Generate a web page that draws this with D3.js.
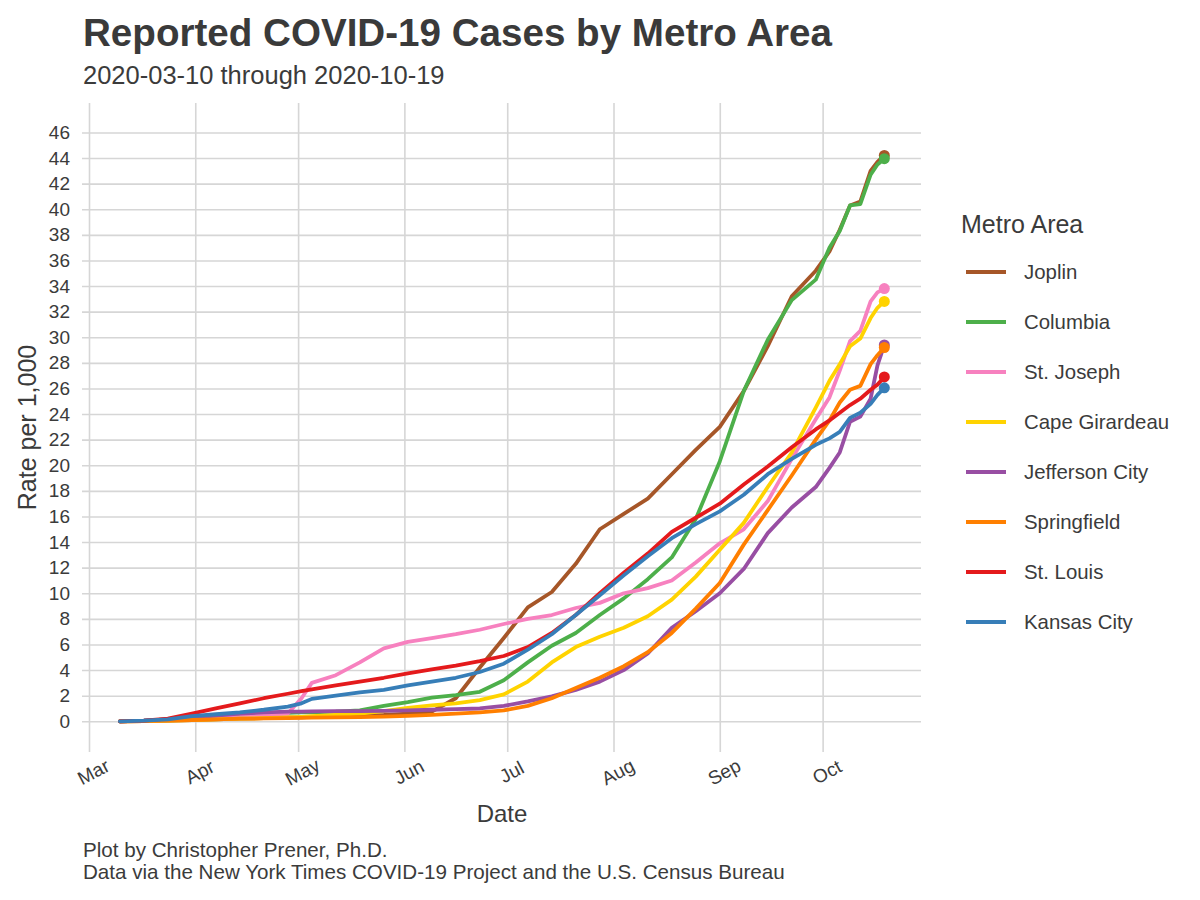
<!DOCTYPE html>
<html>
<head>
<meta charset="utf-8">
<script src="https://cdn.jsdelivr.net/npm/d3@7"></script>
<style>
  html, body { margin: 0; padding: 0; background: #ffffff; }
  svg { display: block; font-family: "Liberation Sans", Arial, Helvetica, sans-serif; }
</style>
</head>
<body>
<svg id="chart" width="1200" height="900"></svg>
<script>
// ---------------- DATA ----------------
const dates = ["2020-03-10","2020-03-17","2020-03-24","2020-03-31","2020-04-07","2020-04-14","2020-04-21","2020-04-28",
  "2020-05-02","2020-05-05","2020-05-12","2020-05-19","2020-05-26","2020-06-02","2020-06-09","2020-06-16","2020-06-23",
  "2020-06-30","2020-07-07","2020-07-14","2020-07-21","2020-07-28","2020-08-04","2020-08-11","2020-08-18","2020-08-25",
  "2020-09-01","2020-09-08","2020-09-15","2020-09-22","2020-09-29","2020-10-03","2020-10-06","2020-10-09","2020-10-12",
  "2020-10-15","2020-10-17","2020-10-19"];

const joplin = [0,0.02,0.05,0.1,0.15,0.2,0.25,0.3,0.3,0.35,0.4,0.45,0.5,0.6,0.75,1.8,4.2,6.5,8.9,10.1,12.3,15.0,16.2,17.4,19.3,21.2,23.0,25.8,29.3,33.2,35.2,36.7,38.4,40.3,40.6,43.0,43.7,44.2];
const columbia = [0,0.05,0.15,0.35,0.5,0.55,0.6,0.65,0.7,0.7,0.75,0.85,1.2,1.5,1.85,2.05,2.3,3.2,4.6,5.9,6.9,8.3,9.6,11.1,12.8,15.8,20.3,25.8,29.8,32.9,34.5,37.0,38.3,40.3,40.4,42.7,43.5,43.95];
const stJoseph = [0,0.02,0.1,0.2,0.3,0.35,0.45,0.6,1.8,3.0,3.6,4.6,5.7,6.2,6.5,6.8,7.15,7.6,8.0,8.3,8.85,9.25,10.0,10.4,11.0,12.4,13.9,15.0,17.2,20.5,23.6,25.3,27.4,29.7,30.5,32.8,33.5,33.8];
const capeGirardeau = [0,0.02,0.05,0.1,0.15,0.2,0.25,0.3,0.35,0.4,0.5,0.6,0.8,1.05,1.25,1.4,1.65,2.1,3.1,4.6,5.8,6.6,7.3,8.2,9.5,11.3,13.4,15.5,18.3,21.0,24.5,26.6,27.9,29.3,29.9,31.5,32.3,32.8];
const jeffersonCity = [0,0.05,0.15,0.3,0.45,0.6,0.7,0.75,0.75,0.78,0.8,0.8,0.82,0.85,0.9,0.95,1.0,1.2,1.55,1.95,2.45,3.1,4.0,5.3,7.3,8.6,10.0,11.9,14.7,16.7,18.3,19.8,21.0,23.4,23.8,25.2,27.8,29.4];
const springfield = [0,0.01,0.05,0.1,0.15,0.2,0.22,0.25,0.27,0.28,0.3,0.33,0.36,0.42,0.5,0.6,0.7,0.85,1.2,1.8,2.6,3.4,4.3,5.4,6.9,8.8,10.8,13.8,16.5,19.2,22.0,23.5,24.9,25.9,26.2,27.9,28.6,29.2];
const stLouis = [0,0.05,0.2,0.6,1.0,1.4,1.8,2.15,2.35,2.5,2.8,3.1,3.4,3.75,4.05,4.35,4.7,5.1,5.8,6.9,8.3,10.0,11.6,13.1,14.8,15.9,17.0,18.5,19.9,21.4,22.8,23.5,24.1,24.7,25.2,25.9,26.3,26.9];
const kansasCity = [0,0.05,0.15,0.4,0.55,0.7,0.9,1.15,1.4,1.75,2.0,2.25,2.45,2.8,3.1,3.4,3.85,4.5,5.6,6.8,8.3,9.85,11.4,12.9,14.3,15.4,16.4,17.7,19.3,20.5,21.6,22.1,22.6,23.7,24.1,24.8,25.5,26.05];

const metroNames = ["Joplin","Columbia","St. Joseph","Cape Girardeau","Jefferson City","Springfield","St. Louis","Kansas City"];
const metroValues = [joplin, columbia, stJoseph, capeGirardeau, jeffersonCity, springfield, stLouis, kansasCity];
const metroColors = ["#A65628","#4DAF4A","#F781BF","#FFD300","#984EA3","#FF7F00","#E41A1C","#377EB8"];

const yTicks = [0,2,4,6,8,10,12,14,16,18,20,22,24,26,28,30,32,34,36,38,40,42,44,46];
const monthTicks = ["2020-03-01","2020-04-01","2020-05-01","2020-06-01","2020-07-01","2020-08-01","2020-09-01","2020-10-01"];

const titleText = "Reported COVID-19 Cases by Metro Area";
const subtitleText = "2020-03-10 through 2020-10-19";
const xLabel = "Date";
const yLabel = "Rate per 1,000";
const legendTitle = "Metro Area";
const captionLines = ["Plot by Christopher Prener, Ph.D.", "Data via the New York Times COVID-19 Project and the U.S. Census Bureau"];

// ---------------- LAYOUT ----------------
const parse = d3.timeParse("%Y-%m-%d");
const panel = { left: 89, right: 921, top: 103, bottom: 752 };
const gridColor = "#d6d6d6";
const textColor = "#3b3b3b";

const svg = d3.select("#chart");

const xStart = parse("2020-03-01");
const xEnd = new Date(xStart.getTime() + 242.7 * 86400000);
const x = d3.scaleTime().domain([xStart, xEnd]).range([panel.left, panel.right]);
const y = d3.scaleLinear().domain([-2.4, 48.3]).range([panel.bottom, panel.top]);

// Horizontal grid + y tick labels
const yAxis = d3.axisLeft(y)
  .tickValues(yTicks)
  .tickSize(panel.right - 82)
  .tickPadding(12)
  .tickFormat(d3.format("d"));
const gy = svg.append("g").attr("transform", `translate(${panel.right},0)`).call(yAxis);
gy.select(".domain").remove();
gy.selectAll(".tick line").attr("stroke", gridColor).attr("stroke-width", 1.6);
gy.selectAll(".tick text")
  .attr("fill", textColor)
  .style("font-size", "19px");

// Vertical grid + month labels
const xAxis = d3.axisBottom(x)
  .tickValues(monthTicks.map(parse))
  .tickSize(panel.bottom - panel.top)
  .tickFormat(d3.timeFormat("%b"));
const gx = svg.append("g").attr("transform", `translate(0,${panel.top})`).call(xAxis);
gx.select(".domain").remove();
gx.selectAll(".tick line").attr("stroke", gridColor).attr("stroke-width", 1.6);
gx.selectAll(".tick text")
  .attr("fill", textColor)
  .style("font-size", "19px")
  .attr("text-anchor", "middle")
  .attr("dy", null)
  .attr("y", null)
  .attr("dominant-baseline", "central")
  .attr("transform", `translate(4,${772 - panel.top}) rotate(-28)`);

// ---------------- LINES ----------------
const parsedDates = dates.map(parse);
const line = d3.line()
  .x((d, i) => x(parsedDates[i]))
  .y(d => y(d));

const linesG = svg.append("g");
metroValues.forEach((vals, k) => {
  linesG.append("path")
    .datum(vals)
    .attr("d", line)
    .attr("fill", "none")
    .attr("stroke", metroColors[k])
    .attr("stroke-width", 3.8)
    .attr("stroke-linejoin", "round")
    .attr("stroke-linecap", "round");
});

// End points
const lastIdx = dates.length - 1;
const dotsG = svg.append("g");
metroValues.forEach((vals, k) => {
  dotsG.append("circle")
    .attr("cx", x(parsedDates[lastIdx]))
    .attr("cy", y(vals[lastIdx]))
    .attr("r", 5.5)
    .attr("fill", metroColors[k]);
});

// ---------------- TEXT ----------------
svg.append("text")
  .attr("x", 83).attr("y", 46)
  .attr("fill", "#3a3a3a")
  .style("font-size", "38.6px").style("font-weight", "bold")
  .text(titleText);

svg.append("text")
  .attr("x", 83).attr("y", 84)
  .attr("fill", textColor)
  .style("font-size", "25.5px")
  .text(subtitleText);

svg.append("text")
  .attr("x", (panel.left + panel.right) / 2 - 3).attr("y", 822)
  .attr("text-anchor", "middle")
  .attr("fill", textColor)
  .style("font-size", "24px")
  .text(xLabel);

svg.append("text")
  .attr("transform", `translate(36,${(panel.top + panel.bottom) / 2}) rotate(-90)`)
  .attr("text-anchor", "middle")
  .attr("fill", textColor)
  .style("font-size", "25px")
  .text(yLabel);

captionLines.forEach((t, i) => {
  svg.append("text")
    .attr("x", 83).attr("y", 857 + i * 22)
    .attr("fill", textColor)
    .style("font-size", "20.6px")
    .text(t);
});

// ---------------- LEGEND ----------------
const legend = svg.append("g");
legend.append("text")
  .attr("x", 961).attr("y", 233)
  .attr("fill", textColor)
  .style("font-size", "25px")
  .text(legendTitle);

const legendY = d3.scalePoint().domain(metroNames).range([272, 622]);
metroNames.forEach((name, k) => {
  const ly = legendY(name);
  legend.append("line")
    .attr("x1", 966).attr("x2", 1006)
    .attr("y1", ly).attr("y2", ly)
    .attr("stroke", metroColors[k])
    .attr("stroke-width", 3.8);
  legend.append("text")
    .attr("x", 1024).attr("y", ly)
    .attr("dominant-baseline", "central")
    .attr("fill", textColor)
    .style("font-size", "20.4px")
    .text(name);
});
</script>
</body>
</html>
